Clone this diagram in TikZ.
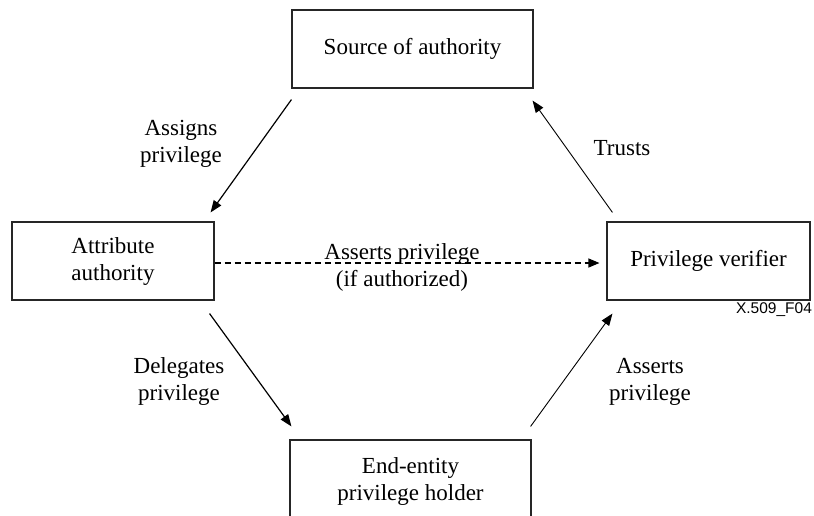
\documentclass[tikz,border=0pt]{standalone}
\usepackage{fontspec}
\setmainfont{Liberation Serif}
\newfontfamily\labelsans{Liberation Sans}
\usetikzlibrary{arrows.meta}
\begin{document}
\begin{tikzpicture}[x=1pt,y=1pt,
  boxnode/.style={draw=black!85,line width=1.1pt,minimum height=78pt,inner sep=0pt,
    align=center,font=\fontsize{23}{27}\selectfont},
  lbl/.style={align=center,font=\fontsize{23}{27}\selectfont,inner sep=0pt},
  conn/.style={line width=1.2pt,-{Triangle[length=12pt,width=9pt]}},
  thinconn/.style={line width=0.9pt,-{Triangle[length=12pt,width=9pt]}},
  dashconn/.style={line width=1.1pt,dash pattern=on 6pt off 4pt,-{Triangle[length=11pt,width=9pt]}}]
\useasboundingbox (0,0) rectangle (814,-515);
\node[boxnode,minimum width=241pt] (src) at (412.5,-49) {Source of authority};
\node[boxnode,minimum width=202pt] (attr) at (113,-261) {Attribute\\authority};
\node[boxnode,minimum width=203pt] (ver) at (708.5,-261) {Privilege verifier};
\node[boxnode,minimum width=241pt,text depth=0pt] (ent) at (410.5,-479) {End-entity\\privilege holder};

\draw[conn] ([yshift=-11pt]src.south west) -- ([shift={(-4pt,9pt)}]attr.north east);
\draw[thinconn] ([shift={(6pt,9pt)}]ver.north west) -- ([shift={(-1pt,-12pt)}]src.south east);
\draw[conn] ([shift={(-5pt,-13pt)}]attr.south east) -- ([shift={(2pt,13pt)}]ent.north west);
\draw[thinconn] ([shift={(-1pt,13pt)}]ent.north east) -- ([shift={(6pt,-13pt)}]ver.south west);
\draw[dashconn] ([yshift=-2pt]attr.east) -- ([shift={(-7pt,-2pt)}]ver.west);

\node[lbl] (lassign) at (181,-144) {Assigns\\privilege};
\node[lbl] (ltrust) at (622,-148) {Trusts};
\node[lbl] (ldeleg) at (179,-381) {Delegates\\privilege};
\node[lbl] (lassert) at (650,-382) {Asserts\\privilege};
\node[lbl] (lauth) at (402,-267) {Asserts privilege\\(if authorized)};
\node[inner sep=0pt,font=\labelsans\fontsize{15.5}{18}\selectfont] (fig) at (774,-310) {X.509\_F04};
\end{tikzpicture}
\end{document}
